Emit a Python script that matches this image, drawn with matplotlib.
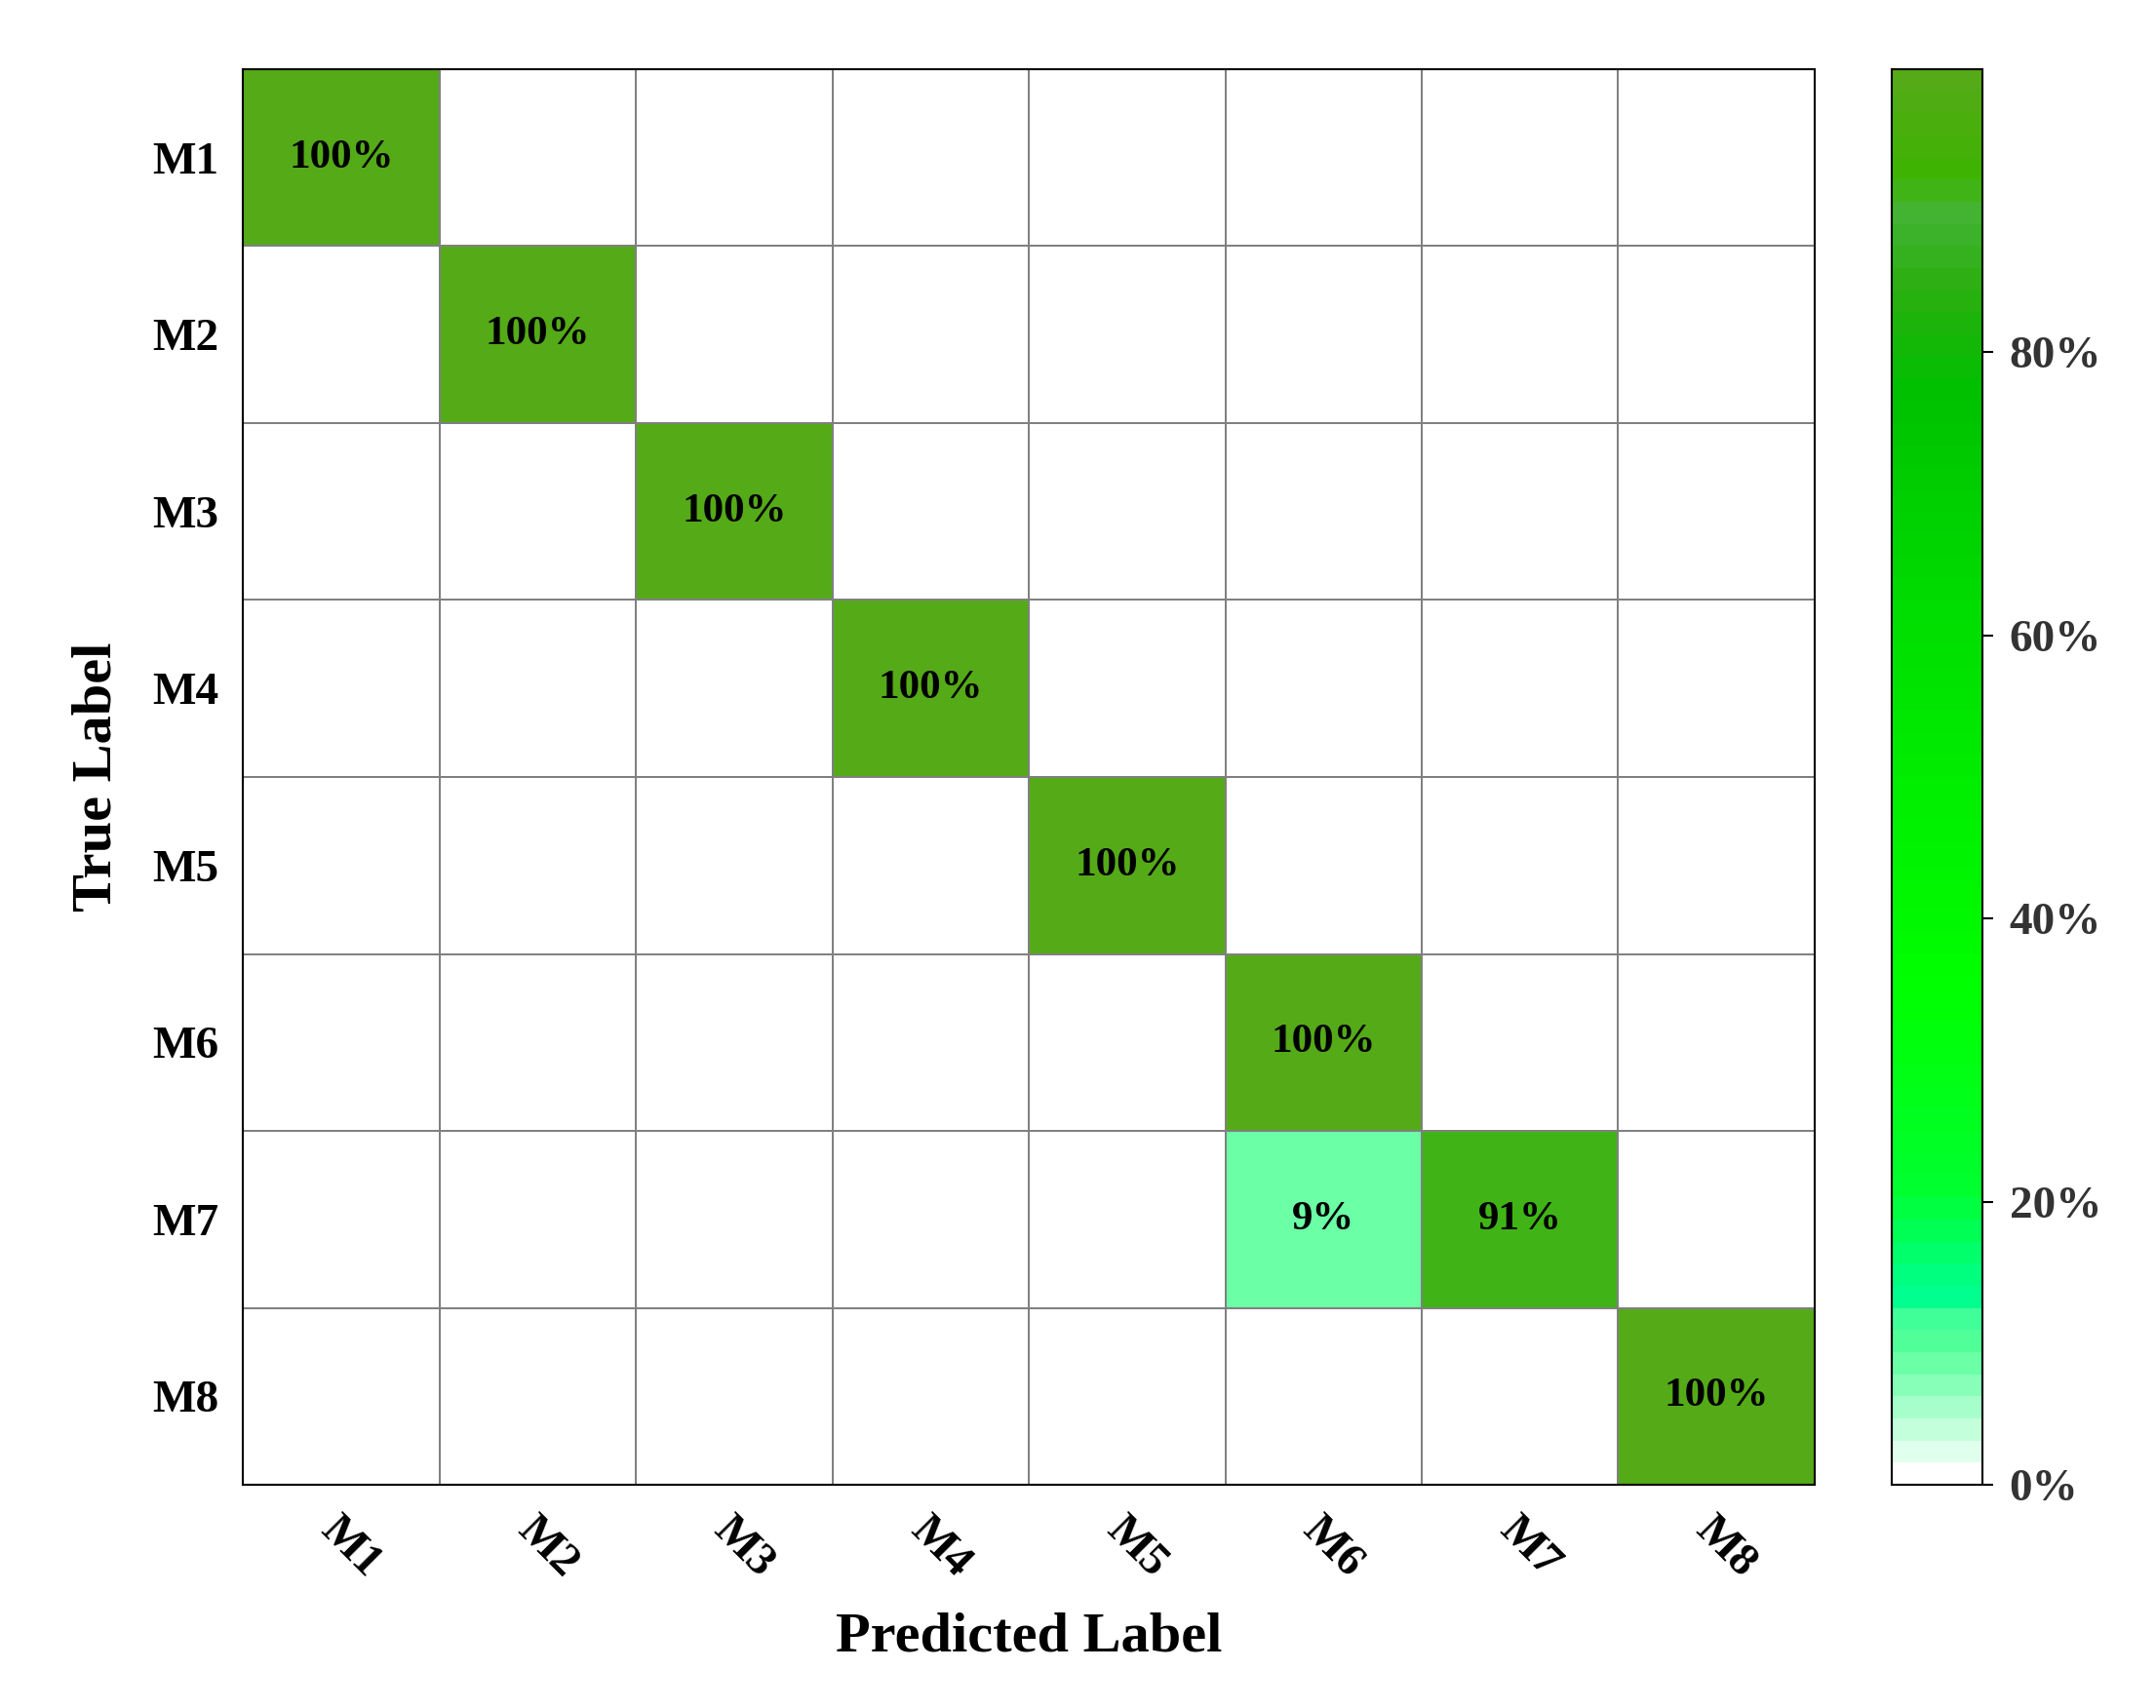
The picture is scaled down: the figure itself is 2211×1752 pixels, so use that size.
import numpy as np
import matplotlib.pyplot as plt
from matplotlib.colors import LinearSegmentedColormap, ListedColormap

labels = ['M1', 'M2', 'M3', 'M4', 'M5', 'M6', 'M7', 'M8']
# percentages, rows = true, cols = predicted
conf = np.zeros((8, 8))
for i in range(8):
    conf[i, i] = 100
conf[6, 5] = 9
conf[6, 6] = 91

plt.rcParams['font.family'] = ['Liberation Serif', 'DejaVu Serif']
plt.rcParams['font.weight'] = 'bold'

anchors = [(0.0, '#ffffff'), (0.09, '#55ff99'), (0.11, '#40ff99'),
           (0.115, '#00ff99'), (0.14, '#00ff80'), (0.2, '#00ff30'),
           (0.35, '#00ff00'), (0.6, '#00e000'), (0.78, '#00c000'),
           (0.85, '#2aaf10'), (0.91, '#44b435'), (0.93, '#3db400'),
           (1.0, '#55aa18')]
base = LinearSegmentedColormap.from_list('g', anchors)
cmap = ListedColormap(base(np.linspace(0, 1, 64)))

fig = plt.figure(figsize=(22.11, 17.52), dpi=100)
ax = fig.add_axes([0.1128, 0.1306, 0.7378 - 0.009, 0.829])
cax = fig.add_axes([0.8872 - 0.0097, 0.1306, 0.0419, 0.829])

mesh = ax.pcolormesh(conf, cmap=cmap, vmin=0, vmax=100,
                     edgecolor='#808080', linewidth=1.2)
ax.set_xlim(0, 8)
ax.set_ylim(8, 0)
for i in range(8):
    for j in range(8):
        if conf[i, j] > 0:
            ax.text(j + 0.5, i + 0.5, f'{conf[i, j]:.0f}%', ha='center',
                    va='center', fontsize=31, fontweight='bold', color='black')

ax.set_xticks(np.arange(8) + 0.5)
ax.set_xticklabels(labels, rotation=-45, ha='left', va='top', rotation_mode='anchor')
ax.set_yticks(np.arange(8) + 0.5)
ax.set_yticklabels(labels)
ax.tick_params(length=0, labelsize=34, pad=18)
for s in ax.spines.values():
    s.set_linewidth(1.5)
ax.set_xlabel('Predicted Label', fontsize=42, fontweight='bold', labelpad=20)
ax.set_ylabel('True Label', fontsize=42, fontweight='bold', labelpad=22)

cb = fig.colorbar(mesh, cax=cax, ticks=[0, 20, 40, 60, 80])
cb.ax.set_yticklabels(['0%', '20%', '40%', '60%', '80%'])
cb.ax.tick_params(labelsize=34, length=8, width=1.5, labelcolor='#333333', pad=12)
cb.outline.set_linewidth(1.5)

fig.savefig('out.png', dpi=100)
